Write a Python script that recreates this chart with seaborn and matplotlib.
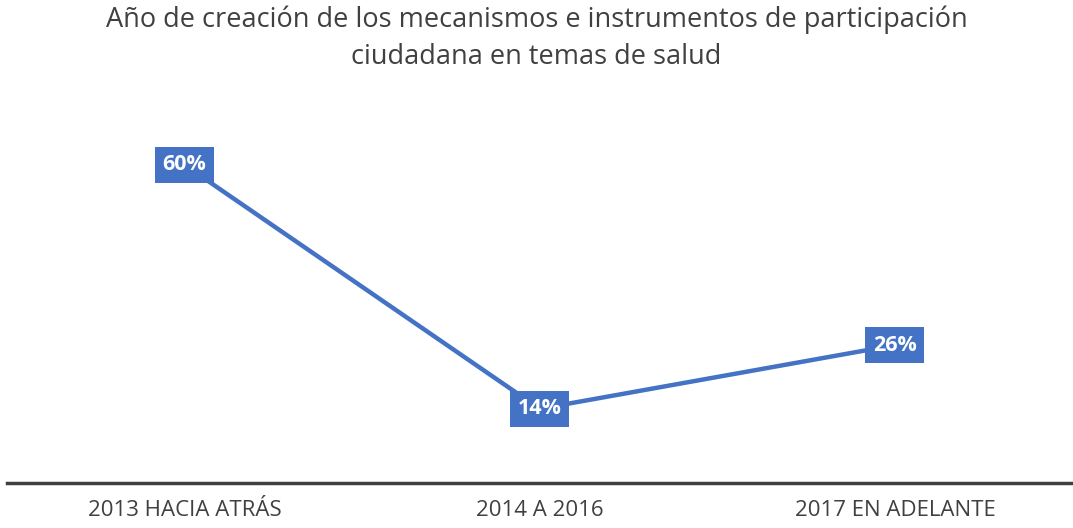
import matplotlib
matplotlib.use('Agg')
import matplotlib.pyplot as plt
import seaborn as sns
import pandas as pd

periodos = ['2013 HACIA ATRÁS', '2014 A 2016', '2017 EN ADELANTE']
porcentajes = [60, 14, 26]
etiquetas = ['60%', '14%', '26%']

dados = pd.DataFrame({'periodo': periodos, 'porcentaje': porcentajes})

sns.set_style('white')
plt.rcParams['font.family'] = ['Open Sans', 'DejaVu Sans']

fig = plt.figure(figsize=(10.73, 5.28), dpi=100)
ax = fig.add_axes([0.0065, 0.0852, 0.993, 0.703])

azul = '#4472C4'
sns.lineplot(data=dados, x='periodo', y='porcentaje', color=azul, linewidth=3.2,
             sort=False, ax=ax)

for i, (v, t) in enumerate(zip(porcentajes, etiquetas)):
    ax.text(i, v, t, ha='center', va='center', color='white', fontsize=15.5,
            fontweight='bold',
            bbox=dict(boxstyle='square,pad=0.35', facecolor=azul, edgecolor='none'))

ax.set_xlim(-0.5, 2.5)
ax.set_ylim(0, 70)
ax.set_xlabel('')
ax.set_ylabel('')
ax.set_yticks([])
ax.tick_params(axis='x', length=0, pad=12, labelsize=16, labelcolor='#404040')
for s in ['top', 'right', 'left']:
    ax.spines[s].set_visible(False)
ax.spines['bottom'].set_color('#404040')
ax.spines['bottom'].set_linewidth(2.5)

fig.suptitle('Año de creación de los mecanismos e instrumentos de participación\nciudadana en temas de salud',
             x=0.5, y=0.99, fontsize=19.5, color='#404040', linespacing=1.45)

plt.savefig('out.png', dpi=100)
